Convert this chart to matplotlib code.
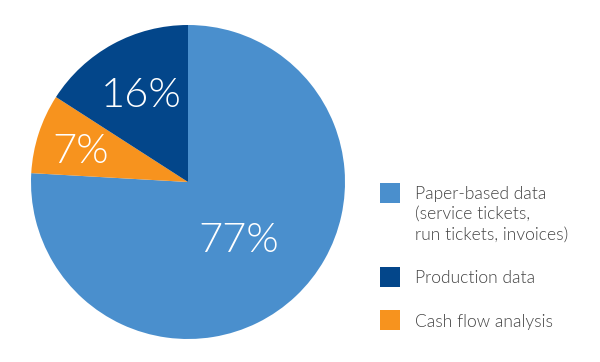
import numpy as np
import matplotlib
matplotlib.use("Agg")
import matplotlib.pyplot as plt
from matplotlib.patches import Rectangle

labels = [["Paper-based data", "(service tickets,", "run tickets, invoices)"],
          ["Cash flow analysis"], ["Production data"]]
values = [75.9, 8.2, 15.9]
pct_labels = ["77%", "7%", "16%"]
colors = ["#4A8FCD", "#F7931E", "#03468A"]
legend_order = [0, 2, 1]

W, H = 600, 362
fig = plt.figure(figsize=(6, 3.62), dpi=100)
ax = fig.add_axes([31/W, 23/H, 314/W, 314/H])
wedges, _ = ax.pie(values, colors=colors, startangle=90, counterclock=False,
                   radius=1.0, wedgeprops=dict(linewidth=0))
ax.set_xlim(-1, 1)
ax.set_ylim(-1, 1)
ax.set_aspect("equal")
ax.axis("off")

label_pos = [(0.325, -0.444), (-0.685, 0.119), (-0.299, 0.478)]
for (x, y), t in zip(label_pos, pct_labels):
    ax.text(x, y, t, color="white", fontsize=30, fontfamily="Lato",
            fontweight=300, ha="center", va="baseline")

# legend
square_tops = [183, 267, 310]
first_baselines = [198.5, 283.3, 326.7]
line_step = 20.5
for idx, top, base in zip(legend_order, square_tops, first_baselines):
    fig.patches.append(Rectangle((380/W, (H-top-19.5)/H), 20/W, 19.5/H,
                                 transform=fig.transFigure, color=colors[idx], lw=0))
    for k, line in enumerate(labels[idx]):
        fig.text(415/W, (H-base-k*line_step)/H, line, color="#444444",
                 fontsize=12.6, fontfamily="Lato", fontweight=300,
                 ha="left", va="baseline")

fig.savefig("out.png", dpi=100, facecolor="white")
